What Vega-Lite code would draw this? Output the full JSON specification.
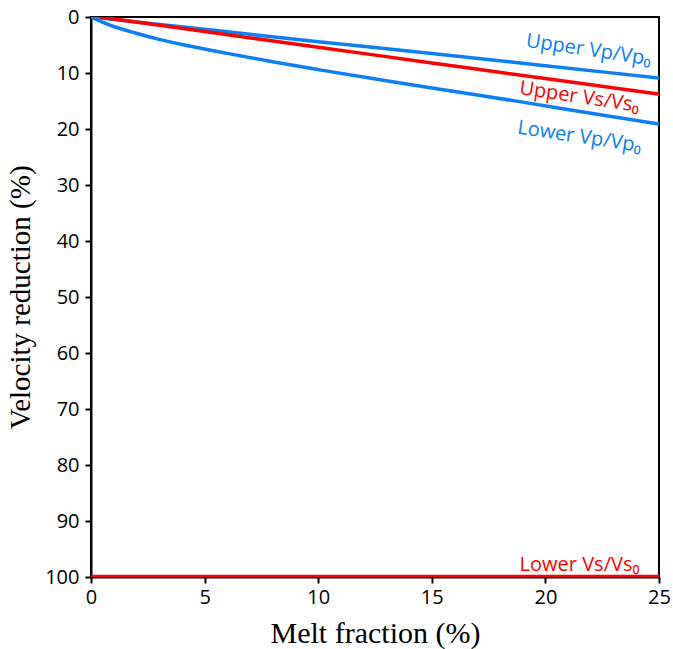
{
  "$schema": "https://vega.github.io/schema/vega-lite/v6.json",
  "width": 568,
  "height": 560,
  "autosize": {"type": "none"},
  "padding": {"left": 91, "top": 17, "right": 14, "bottom": 72},
  "background": "white",
  "config": {
    "view": {"stroke": "black", "strokeWidth": 2},
    "axis": {
      "grid": false,
      "domainColor": "black",
      "domainWidth": 2,
      "tickColor": "black",
      "tickWidth": 2,
      "tickSize": 6,
      "labelFont": "Open Sans",
      "labelFontSize": 20,
      "labelColor": "black",
      "labelPadding": 4,
      "labelFlush": false,
      "titleFont": "Liberation Serif",
      "titleFontWeight": "normal",
      "titleColor": "black"
    }
  },
  "datasets": {
    "curves": [
      {"series": "Upper Vp/Vp0", "melt": 0, "red": 0},
      {"series": "Upper Vp/Vp0", "melt": 5, "red": 2.2},
      {"series": "Upper Vp/Vp0", "melt": 10, "red": 4.4},
      {"series": "Upper Vp/Vp0", "melt": 15, "red": 6.5},
      {"series": "Upper Vp/Vp0", "melt": 20, "red": 8.7},
      {"series": "Upper Vp/Vp0", "melt": 25, "red": 10.9},
      {"series": "Upper Vs/Vs0", "melt": 0.4, "red": 0},
      {"series": "Upper Vs/Vs0", "melt": 5, "red": 2.6},
      {"series": "Upper Vs/Vs0", "melt": 10, "red": 5.4},
      {"series": "Upper Vs/Vs0", "melt": 15, "red": 8.2},
      {"series": "Upper Vs/Vs0", "melt": 20, "red": 11.0},
      {"series": "Upper Vs/Vs0", "melt": 25, "red": 13.75},
      {"series": "Lower Vp/Vp0", "melt": 0, "red": 0},
      {"series": "Lower Vp/Vp0", "melt": 0.5, "red": 0.9},
      {"series": "Lower Vp/Vp0", "melt": 1, "red": 1.7},
      {"series": "Lower Vp/Vp0", "melt": 2, "red": 2.9},
      {"series": "Lower Vp/Vp0", "melt": 3, "red": 4.0},
      {"series": "Lower Vp/Vp0", "melt": 4, "red": 4.9},
      {"series": "Lower Vp/Vp0", "melt": 6, "red": 6.5},
      {"series": "Lower Vp/Vp0", "melt": 8, "red": 8.0},
      {"series": "Lower Vp/Vp0", "melt": 10, "red": 9.4},
      {"series": "Lower Vp/Vp0", "melt": 13, "red": 11.4},
      {"series": "Lower Vp/Vp0", "melt": 16, "red": 13.3},
      {"series": "Lower Vp/Vp0", "melt": 19, "red": 15.2},
      {"series": "Lower Vp/Vp0", "melt": 22, "red": 17.2},
      {"series": "Lower Vp/Vp0", "melt": 25, "red": 19.1},
      {"series": "Lower Vs/Vs0", "melt": 0, "red": 99.9},
      {"series": "Lower Vs/Vs0", "melt": 25, "red": 99.9}
    ],
    "labels": [
      {"series": "Upper Vp/Vp0", "text": "Upper Vp/Vp₀", "melt": 21.9, "red": 5.9, "rot": "yes"},
      {"series": "Upper Vs/Vs0", "text": "Upper Vs/Vs₀", "melt": 21.5, "red": 14.3, "rot": "yes"},
      {"series": "Lower Vp/Vp0", "text": "Lower Vp/Vp₀", "melt": 21.5, "red": 21.4, "rot": "yes"},
      {"series": "Lower Vs/Vs0", "text": "Lower Vs/Vs₀", "melt": 21.5, "red": 97.9, "rot": "no"}
    ]
  },
  "layer": [
    {
      "data": {"name": "curves"},
      "mark": {"type": "line", "strokeWidth": 3.5, "clip": true, "interpolate": "monotone"},
      "encoding": {
        "x": {"field": "melt", "type": "quantitative", "scale": {"domain": [0, 25], "nice": false}, "axis": {"values": [0, 5, 10, 15, 20, 25], "title": "Melt fraction (%)", "titleFontSize": 30, "titlePadding": 11}},
        "y": {"field": "red", "type": "quantitative", "scale": {"domain": [0, 100], "reverse": true, "nice": false}, "axis": {"values": [0, 10, 20, 30, 40, 50, 60, 70, 80, 90, 100], "title": "Velocity reduction (%)", "titleFontSize": 29, "titlePadding": 9, "labelPadding": 6}},
        "color": {"field": "series", "type": "nominal", "scale": {"domain": ["Upper Vp/Vp0", "Upper Vs/Vs0", "Lower Vp/Vp0", "Lower Vs/Vs0"], "range": ["#0a80f5", "#ff0000", "#0a80f5", "#ff0000"]}, "legend": null},
        "detail": {"field": "series"}
      }
    },
    {
      "data": {"name": "labels"},
      "transform": [{"filter": "datum.rot == 'yes'"}],
      "mark": {"type": "text", "font": "Open Sans", "fontSize": 20, "angle": 8.5, "align": "center", "baseline": "middle"},
      "encoding": {
        "x": {"field": "melt", "type": "quantitative"},
        "y": {"field": "red", "type": "quantitative"},
        "text": {"field": "text"},
        "color": {"field": "series", "type": "nominal", "legend": null}
      }
    },
    {
      "data": {"name": "labels"},
      "transform": [{"filter": "datum.rot == 'no'"}],
      "mark": {"type": "text", "font": "Open Sans", "fontSize": 20, "angle": 0, "align": "center", "baseline": "middle"},
      "encoding": {
        "x": {"field": "melt", "type": "quantitative"},
        "y": {"field": "red", "type": "quantitative"},
        "text": {"field": "text"},
        "color": {"field": "series", "type": "nominal", "legend": null}
      }
    }
  ]
}
